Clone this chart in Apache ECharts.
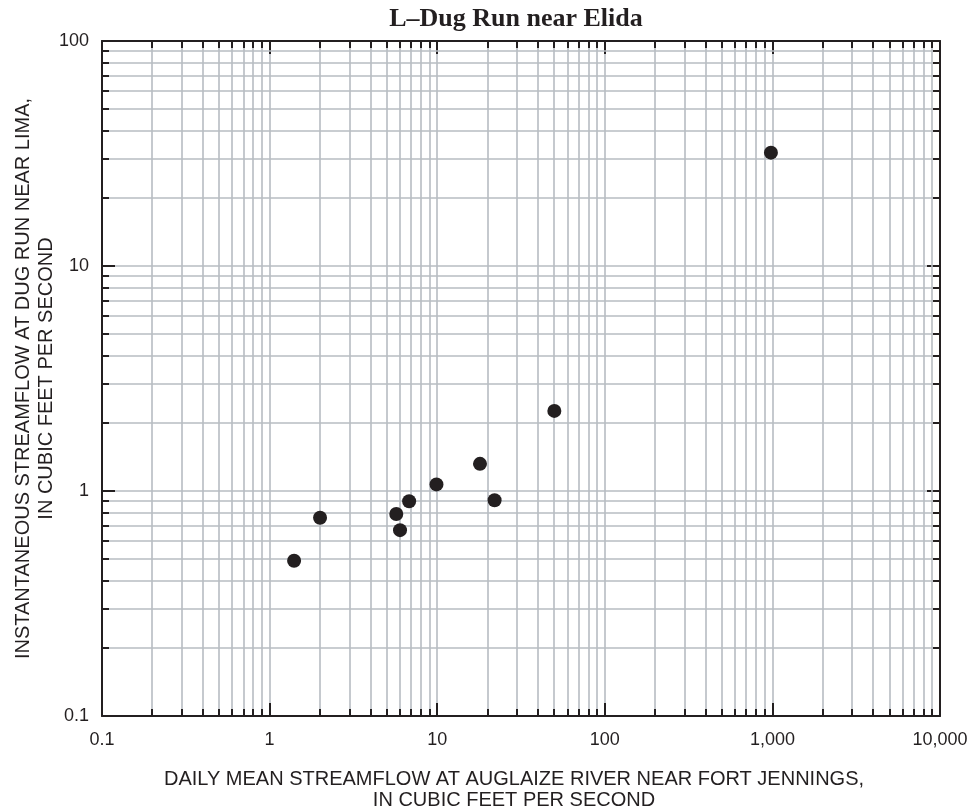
<!DOCTYPE html>
<html><head><meta charset="utf-8">
<script src="https://cdn.jsdelivr.net/npm/echarts@6/dist/echarts.min.js"></script>
<style>html,body{margin:0;padding:0;background:#fff}#c{width:972px;height:812px}</style>
</head><body><div id="c"></div>
<script>
const chartTitle = 'L\u2013Dug Run near Elida';
const xName = 'DAILY MEAN STREAMFLOW AT AUGLAIZE RIVER NEAR FORT JENNINGS,\nIN CUBIC FEET PER SECOND';
const yName = 'INSTANTANEOUS STREAMFLOW AT DUG RUN NEAR LIMA,\nIN CUBIC FEET PER SECOND';
const xValues = [1.4, 2.0, 5.7, 6.0, 6.8, 9.9, 18, 22, 50, 980];
const yValues = [0.49, 0.76, 0.79, 0.67, 0.90, 1.07, 1.32, 0.91, 2.27, 31.9];
const xDecades = [0.1, 1, 10, 100, 1000];
const yDecades = [0.1, 1, 10];
const minorSteps = [2, 3, 4, 5, 6, 7, 8, 9];
const xTickLabels = {'0.1':'0.1','1':'1','10':'10','100':'100','1000':'1,000','10000':'10,000'};
const yTickLabels = {'0.1':'0.1','1':'1','10':'10','100':'100'};

const INK = '#231f20', GRIDC = '#b7bcc2';
const SANS = '"Liberation Sans", Arial, Helvetica, sans-serif';
const chart = echarts.init(document.getElementById('c'), null, {renderer:'canvas'});

function fmtKey(v){ return String(+v.toPrecision(6)); }

function minorVals(decades){
  const out = [];
  decades.forEach(d => minorSteps.forEach(m => out.push(+(d*m).toPrecision(6))));
  return out;
}
const xMinor = minorVals(xDecades), yMinor = minorVals(yDecades);

function renderGrid(params, api){
  const cs = params.coordSys;
  const L = cs.x, T = cs.y, R = cs.x + cs.width, B = cs.y + cs.height;
  const children = [];
  const gl = {stroke: GRIDC, lineWidth: 1.6};
  const tk = {stroke: INK, lineWidth: 2};
  const tl = 7;
  xMinor.forEach(v => {
    const x = Math.round(api.coord([v, 1])[0]);
    children.push({type:'line', shape:{x1:x,y1:T,x2:x,y2:B}, style:gl, silent:true});
    children.push({type:'line', shape:{x1:x,y1:B,x2:x,y2:B-tl}, style:tk, silent:true, z2:5});
    children.push({type:'line', shape:{x1:x,y1:T,x2:x,y2:T+tl}, style:tk, silent:true, z2:5});
  });
  yMinor.forEach(v => {
    const y = Math.round(api.coord([1, v])[1]);
    children.push({type:'line', shape:{x1:L,y1:y,x2:R,y2:y}, style:gl, silent:true});
    children.push({type:'line', shape:{x1:L,y1:y,x2:L+tl,y2:y}, style:tk, silent:true, z2:5});
    children.push({type:'line', shape:{x1:R,y1:y,x2:R-tl,y2:y}, style:tk, silent:true, z2:5});
  });
  return {type:'group', children};
}

const axisCommon = {
  type:'log', logBase:10,
  axisLine:{show:true, onZero:false, lineStyle:{color:INK, width:2}},
  axisTick:{show:true, inside:true, length:13, lineStyle:{color:INK, width:2}},
  splitLine:{show:true, lineStyle:{color:GRIDC, width:1.6}},
  minorTick:{show:false}, minorSplitLine:{show:false}
};

const option = {
  animation:false,
  backgroundColor:'#fff',
  grid:{left:102, right:32, top:41, bottom:96, containLabel:false, outerBoundsMode:'none'},
  graphic:[{type:'text', x:516, y:19, style:{text:chartTitle, fill:INK, align:'center', verticalAlign:'middle', font:'bold 26px "Liberation Serif", "Times New Roman", serif'}}],
  xAxis:[
    Object.assign({}, axisCommon, {min:0.1, max:10000, position:'bottom',
      name:xName, nameLocation:'middle', nameGap:53, nameMoveOverlap:false,
      nameTextStyle:{color:INK, fontSize:20, fontFamily:SANS, lineHeight:21, align:'center', padding:[0,14,0,0]},
      axisLabel:{show:true, margin:15, color:INK, fontSize:18, fontFamily:SANS,
        formatter: v => xTickLabels[fmtKey(v)] ?? ''}}),
    Object.assign({}, axisCommon, {min:0.1, max:10000, position:'top', axisLabel:{show:false}, splitLine:{show:false}})
  ],
  yAxis:[
    Object.assign({}, axisCommon, {min:0.1, max:100, position:'left',
      name:yName, nameLocation:'middle', nameGap:44, nameRotate:90, nameMoveOverlap:false,
      nameTextStyle:{color:INK, fontSize:20, fontFamily:SANS, lineHeight:23, align:'center'},
      axisLabel:{show:true, margin:13, color:INK, fontSize:18, fontFamily:SANS,
        formatter: v => yTickLabels[fmtKey(v)] ?? ''}}),
    Object.assign({}, axisCommon, {min:0.1, max:100, position:'right', axisLabel:{show:false}, splitLine:{show:false}})
  ],
  series:[
    {type:'custom', xAxisIndex:0, yAxisIndex:0, data:[[1,1]], renderItem:renderGrid, z:1, silent:true},
    {type:'scatter', xAxisIndex:0, yAxisIndex:0, symbol:'circle', symbolSize:14,
      itemStyle:{color:INK, opacity:1}, data:xValues.map((x,i)=>[x, yValues[i]]), z:10}
  ]
};
chart.setOption(option);
</script></body></html>
